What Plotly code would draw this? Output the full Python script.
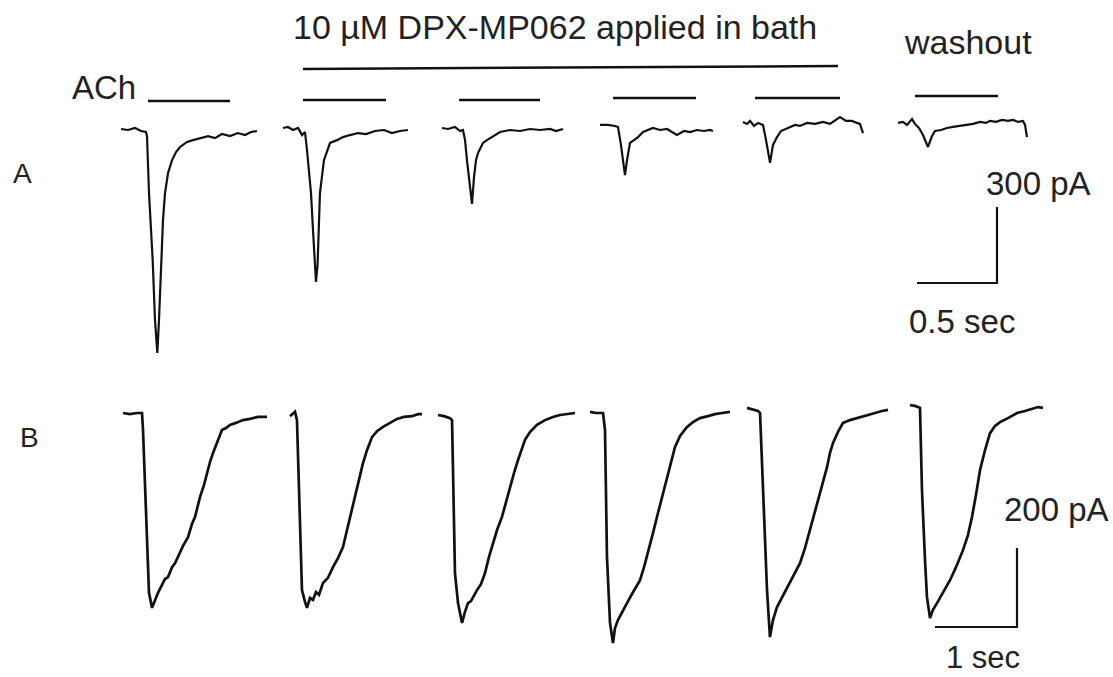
import plotly.graph_objects as go

# ---------------- DATA (time in s from sweep start, current in pA rel. to baseline) -------------
# Panel A sweeps (ACh responses): control, 4 sweeps in DPX-MP062, washout
A1_t = [0, 0.044, 0.0875, 0.125, 0.156, 0.1625, 0.175, 0.198, 0.2125, 0.227, 0.2375, 0.25, 0.2625,
        0.275, 0.294, 0.319, 0.344, 0.369, 0.4125, 0.45, 0.494, 0.544, 0.5875, 0.631, 0.681, 0.731,
        0.775, 0.8125, 0.85]
A1_i = [4, 0, 8, -4, -8, -24, -249, -514, -750, -881, -750, -514, -356, -249, -170, -119, -87, -67,
        -47, -40, -32, -24, -32, -16, -24, -12, -20, -8, -4]

A2_t = [0, 0.031, 0.0625, 0.094, 0.119, 0.1375, 0.15, 0.175, 0.1875, 0.2, 0.206, 0.216, 0.231, 0.256,
        0.294, 0.3375, 0.375, 0.419, 0.469, 0.519, 0.575, 0.631, 0.681, 0.731, 0.781]
A2_i = [8, 12, 0, 8, -20, -8, -79, -249, -395, -533, -600, -533, -249, -119, -51, -40, -28, -20, -12,
        -16, -4, 0, -12, -4, 0]

A3_t = [0, 0.0375, 0.081, 0.1125, 0.131, 0.144, 0.156, 0.169, 0.1875, 0.2, 0.2125, 0.225, 0.256,
        0.281, 0.319, 0.3625, 0.425, 0.4875, 0.55, 0.6125, 0.675, 0.7125, 0.756]
A3_i = [8, 4, 12, -4, 0, -40, -119, -198, -292, -186, -119, -91, -51, -40, -24, -8, 0, -4, 4, 0, 4,
        -4, 4]

A4_t = [0, 0.05, 0.094, 0.1125, 0.131, 0.156, 0.169, 0.1875, 0.2125, 0.2375, 0.269, 0.3, 0.331,
        0.375, 0.419, 0.45, 0.481, 0.525, 0.5625, 0.606, 0.65, 0.6875, 0.706]
A4_i = [20, 20, 16, 12, -59, -178, -119, -51, -40, -28, -8, 0, 8, 0, 4, -8, -20, -4, -8, 0, -4, 0, -4]

A5_t = [0, 0.025, 0.044, 0.069, 0.094, 0.125, 0.144, 0.169, 0.1875, 0.2125, 0.2375, 0.281, 0.325,
        0.356, 0.4, 0.45, 0.5, 0.544, 0.581, 0.606, 0.644, 0.681, 0.7125, 0.731, 0.75]
A5_i = [32, 24, 36, 16, 28, 20, -40, -130, -59, -28, -4, 8, 20, 16, 28, 24, 32, 24, 40, 51, 36, 36,
        28, 24, -12]

A6_t = [0, 0.031, 0.056, 0.0875, 0.106, 0.131, 0.156, 0.1875, 0.2125, 0.231, 0.269, 0.306, 0.344,
        0.3875, 0.431, 0.469, 0.5125, 0.55, 0.575, 0.6125, 0.65, 0.6875, 0.719, 0.75, 0.781, 0.794,
        0.806]
A6_i = [28, 32, 20, 43, 24, 8, -20, -67, -24, -4, 0, 8, 12, 16, 20, 24, 32, 28, 36, 32, 40, 36, 40,
        32, 36, 20, -28]

# Panel B sweeps
B1_t = [0, 0.085, 0.171, 0.232, 0.244, 0.28, 0.317, 0.354, 0.39, 0.427, 0.476, 0.512, 0.549, 0.598,
        0.634, 0.671, 0.732, 0.793, 0.841, 0.878, 0.939, 0.988, 1.024, 1.061, 1.098, 1.159, 1.207,
        1.256, 1.305, 1.378, 1.463, 1.549, 1.646, 1.756]
B1_i = [0, -3, 0, 0, -43, -271, -455, -493, -473, -455, -435, -420, -415, -390, -380, -364, -336,
        -314, -281, -263, -213, -182, -152, -124, -101, -68, -43, -38, -30, -25, -18, -15, -10, -10]

B2_t = [0, 0.061, 0.085, 0.11, 0.146, 0.183, 0.207, 0.244, 0.28, 0.317, 0.354, 0.402, 0.463, 0.524,
        0.585, 0.646, 0.695, 0.732, 0.78, 0.817, 0.854, 0.89, 0.939, 1.0, 1.061, 1.134, 1.22, 1.305,
        1.39, 1.488, 1.561, 1.61]
B2_i = [-8, 3, -18, -220, -448, -478, -493, -468, -473, -453, -460, -430, -417, -390, -367, -339,
        -296, -263, -225, -195, -159, -127, -94, -61, -46, -35, -25, -15, -10, -8, -3, -3]

B3_t = [0, 0.073, 0.146, 0.171, 0.183, 0.207, 0.244, 0.268, 0.293, 0.329, 0.366, 0.402, 0.439,
        0.476, 0.524, 0.573, 0.622, 0.671, 0.72, 0.78, 0.829, 0.878, 0.927, 0.976, 1.024, 1.061,
        1.122, 1.207, 1.305, 1.402, 1.488, 1.573, 1.671]
B3_i = [-5, -8, -13, -18, -144, -405, -481, -511, -531, -503, -481, -476, -460, -448, -433, -405,
        -364, -329, -296, -263, -225, -187, -152, -119, -89, -68, -48, -30, -18, -10, -5, -3, 0]

B4_t = [0, 0.073, 0.159, 0.183, 0.207, 0.244, 0.28, 0.305, 0.341, 0.39, 0.451, 0.512, 0.561, 0.61,
        0.659, 0.707, 0.768, 0.829, 0.878, 0.939, 0.988, 1.037, 1.098, 1.183, 1.256, 1.341, 1.439,
        1.524, 1.61, 1.707]
B4_i = [3, 0, 0, -43, -364, -531, -582, -544, -524, -503, -481, -458, -440, -423, -390, -354, -304,
        -253, -213, -170, -127, -86, -58, -35, -23, -13, -8, -3, 0, 3]

B5_t = [0, 0.073, 0.134, 0.159, 0.195, 0.244, 0.28, 0.317, 0.366, 0.427, 0.5, 0.573, 0.646, 0.707,
        0.768, 0.817, 0.866, 0.915, 0.976, 1.012, 1.049, 1.11, 1.171, 1.256, 1.378, 1.476, 1.561,
        1.646, 1.72]
B5_i = [13, 8, 5, 0, -195, -448, -567, -524, -491, -466, -440, -410, -380, -342, -296, -258, -220,
        -180, -137, -101, -76, -48, -25, -18, -10, -5, 0, 5, 8]

B6_t = [0, 0.061, 0.122, 0.146, 0.183, 0.207, 0.244, 0.28, 0.329, 0.402, 0.488, 0.561, 0.646,
        0.707, 0.756, 0.805, 0.854, 0.915, 0.976, 1.037, 1.098, 1.195, 1.305, 1.402, 1.5, 1.561,
        1.622]
B6_i = [20, 18, 13, -195, -372, -466, -519, -498, -481, -453, -423, -390, -347, -309, -263, -207,
        -144, -94, -51, -33, -23, -13, 0, 5, 10, 15, 13]

# Scale bar values
A_scale_t, A_scale_i = 0.5, 300   # sec, pA
B_scale_t, B_scale_i = 1.0, 200   # sec, pA

# Labels
title_label = "10 \u00b5M DPX-MP062 applied in bath"
ach_label = "ACh"
wash_label = "washout"

# ---------------- LAYOUT (positions) ----------------
W, H = 1113, 677
A_px_per_s, A_pA_per_px, A_base_px = 160.0, 3.95, 130
B_px_per_s, B_pA_per_px, B_base_px = 82.0, 2.53, 413
A_offsets_px = [121, 283, 442, 600, 743, 898]
B_offsets_px = [123, 290, 438, 590, 747, 910]

A_sweeps = [(A1_t, A1_i), (A2_t, A2_i), (A3_t, A3_i), (A4_t, A4_i), (A5_t, A5_i), (A6_t, A6_i)]
B_sweeps = [(B1_t, B1_i), (B2_t, B2_i), (B3_t, B3_i), (B4_t, B4_i), (B5_t, B5_i), (B6_t, B6_i)]

LINE = "#111111"
fig = go.Figure()

for (t, i), off in zip(A_sweeps, A_offsets_px):
    o = off / A_px_per_s
    fig.add_trace(go.Scatter(x=[o + v for v in t], y=i, mode="lines",
                             line=dict(color=LINE, width=2.2), xaxis="x", yaxis="y",
                             hoverinfo="skip", showlegend=False))
for (t, i), off in zip(B_sweeps, B_offsets_px):
    o = off / B_px_per_s
    fig.add_trace(go.Scatter(x=[o + v for v in t], y=i, mode="lines",
                             line=dict(color=LINE, width=2.7), xaxis="x2", yaxis="y2",
                             hoverinfo="skip", showlegend=False))

# scale bars (drawn in data units)
a_cx, a_cy = 997 / A_px_per_s, -(283 - A_base_px) * A_pA_per_px
fig.add_trace(go.Scatter(x=[a_cx - A_scale_t, a_cx, a_cx], y=[a_cy, a_cy, a_cy + A_scale_i],
                         mode="lines", line=dict(color=LINE, width=2.2), xaxis="x", yaxis="y",
                         hoverinfo="skip", showlegend=False))
b_cx, b_cy = 1017 / B_px_per_s, -(627 - B_base_px) * B_pA_per_px
fig.add_trace(go.Scatter(x=[b_cx - B_scale_t, b_cx, b_cx], y=[b_cy, b_cy, b_cy + B_scale_i],
                         mode="lines", line=dict(color=LINE, width=2.2), xaxis="x2", yaxis="y2",
                         hoverinfo="skip", showlegend=False))

def px(x):
    return x / W

def py(y):
    return 1 - y / H

shapes = []
ach_bars_px = [(148, 230, 101), (303, 386, 100), (459, 540, 100), (613, 696, 98), (755, 840, 98),
               (915, 998, 96)]
for x0, x1, y in ach_bars_px:
    shapes.append(dict(type="line", xref="paper", yref="paper", x0=px(x0), x1=px(x1),
                       y0=py(y), y1=py(y), line=dict(color=LINE, width=2.5)))
shapes.append(dict(type="line", xref="paper", yref="paper", x0=px(303), x1=px(838),
                   y0=py(69), y1=py(66), line=dict(color=LINE, width=2.5)))

FONT = "Liberation Sans, Arial, sans-serif"
TXT = "#222222"
def ann(text, x, y, size, yanchor="middle"):
    return dict(text=text, x=px(x), y=py(y), xref="paper", yref="paper", showarrow=False,
                xanchor="center", yanchor=yanchor, borderpad=0,
                font=dict(family=FONT, size=size, color=TXT))

annotations = [
    ann(title_label, 555, 27, 34),
    ann(wash_label, 968, 42, 34),
    ann(ach_label, 104, 87, 33),
    ann("A", 22, 173, 28),
    ann("B", 29, 437, 28),
    ann(f"{A_scale_i} pA", 1038, 183, 33),
    ann(f"{A_scale_t} sec", 962, 321, 33),
    ann(f"{B_scale_i} pA", 1056, 509, 33),
    ann(f"{int(B_scale_t)} sec", 983, 676, 31, yanchor="bottom"),
]

ax_common = dict(visible=False, showgrid=False, zeroline=False, fixedrange=True)
fig.update_layout(
    width=W, height=H,
    margin=dict(l=0, r=0, t=0, b=0),
    paper_bgcolor="white", plot_bgcolor="white",
    xaxis=dict(range=[0, W / A_px_per_s], domain=[0, 1], **ax_common),
    yaxis=dict(range=[-(H - A_base_px) * A_pA_per_px, A_base_px * A_pA_per_px], domain=[0, 1],
               **ax_common),
    xaxis2=dict(range=[0, W / B_px_per_s], domain=[0, 1], overlaying="x", anchor="y2",
                **ax_common),
    yaxis2=dict(range=[-(H - B_base_px) * B_pA_per_px, B_base_px * B_pA_per_px], domain=[0, 1],
                overlaying="y", anchor="x2", **ax_common),
    shapes=shapes,
    annotations=annotations,
    showlegend=False,
)

fig.write_html("out.html", config={"displayModeBar": False},
               post_script="document.body.style.margin='0';document.body.style.overflow='hidden';")
